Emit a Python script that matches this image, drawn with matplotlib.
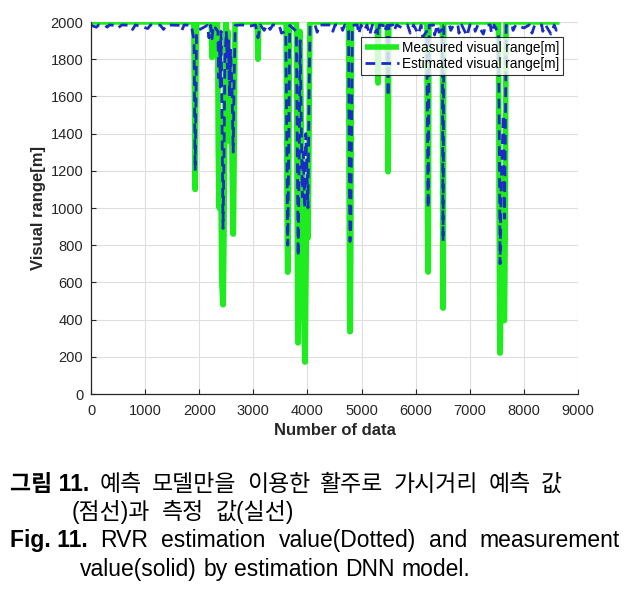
import matplotlib
matplotlib.use("Agg")
import matplotlib.pyplot as plt
from matplotlib import font_manager

# --- DATOS ---
# serie medida (verde, linea solida)
meas_idx = [0, 1900, 1914, 1921, 1927, 1936, 1950,
            2222, 2233, 2239, 2250,
            2340, 2352, 2368, 2382, 2398, 2418, 2436, 2444, 2456, 2472, 2490, 2508,
            2528, 2548, 2570, 2590, 2608, 2624, 2632, 2646, 2662,
            3072, 3083, 3089, 3100,
            3605, 3620, 3632, 3640, 3654, 3668,
            3795, 3810, 3822, 3830, 3842, 3862, 3885, 3910, 3935, 3951, 3959, 3972, 3990,
            4006, 4014, 4028, 4045,
            4760, 4772, 4782, 4792, 4802, 4816,
            5292, 5302, 5308, 5318,
            5478, 5487, 5493, 5504,
            6208, 6218, 6226, 6234, 6246,
            6494, 6502, 6510, 6520,
            7530, 7542, 7555, 7563, 7576, 7596, 7616, 7634, 7642, 7656, 7670,
            8660]
meas_val = [2000, 2000, 1500, 1100, 1100, 1600, 2000,
            2000, 1810, 1810, 2000,
            2000, 1300, 1000, 1500, 1150, 600, 480, 480, 800, 1400, 2000, 1650,
            1950, 1400, 1355, 1750, 1200, 860, 860, 1300, 2000,
            2000, 1800, 1800, 2000,
            2000, 1150, 655, 655, 1100, 2000,
            2000, 960, 275, 275, 900, 1950, 1500, 1050, 420, 172, 172, 600, 1100,
            840, 840, 1350, 2000,
            2000, 900, 335, 335, 800, 2000,
            2000, 1672, 1672, 2000,
            2000, 1195, 1195, 2000,
            2000, 1000, 656, 656, 2000,
            2000, 462, 462, 2000,
            2000, 1000, 220, 220, 500, 900, 1200, 395, 395, 900, 2000,
            2000]

# serie estimada (azul, linea discontinua)
est_idx = [0, 100, 140, 260, 300, 340, 440, 500, 570, 720, 770, 820, 1050, 1100,
           1280, 1340, 1400, 1640, 1680, 1720, 1850, 1880,
           1905, 1915, 1925, 1937, 1950, 2150, 2180, 2210, 2236, 2262,
           2345, 2360, 2375, 2390, 2405, 2420, 2440, 2458, 2475, 2500, 2520,
           2540, 2560, 2580, 2605, 2628, 2645, 2665,
           2800, 2900, 3040, 3086, 3130, 3200, 3250, 3310, 3360, 3480, 3520,
           3600, 3618, 3636, 3654, 3672,
           3795, 3812, 3828, 3845, 3865, 3885, 3905, 3925, 3950, 3970, 3990,
           4010, 4030, 4048,
           4140, 4180, 4220, 4430, 4470, 4510, 4620, 4650, 4690,
           4760, 4772, 4786, 4800, 4815, 4830,
           4920, 4950, 4990, 5050, 5100, 5150, 5200, 5250, 5292, 5305, 5330,
           5400, 5420, 5476, 5490, 5504, 5580, 5600, 5650, 5750, 5850, 5900,
           5960, 6050, 6100, 6130, 6205, 6230, 6250, 6330, 6350, 6400, 6430,
           6492, 6506, 6520, 6620, 6650, 6700, 6780, 6800, 6850, 6950, 7000,
           7080, 7100, 7150, 7250, 7300, 7380, 7400, 7450, 7500, 7530,
           7545, 7560, 7578, 7600, 7620, 7640, 7658, 7672,
           7780, 7800, 7850, 8000, 8100, 8150, 8200, 8330, 8350, 8400, 8500,
           8560, 8600, 8660]
est_val = [1982, 1972, 1984, 1982, 1972, 1984, 1982, 1968, 1984, 1982, 1960, 1984, 1965, 1984,
           1983, 1960, 1984, 1982, 1955, 1984, 1982, 1940,
           1900, 1500, 1200, 1500, 1950, 1982, 1915, 1982, 1910, 1982,
           1950, 1700, 1900, 1650, 1950, 1500, 890, 1300, 1800, 1950, 1750,
           1900, 1600, 1850, 1650, 1300, 1700, 1982,
           1984, 1976, 1984, 1915, 1984, 1955, 1984, 1960, 1984, 1982, 1940,
           1950, 1400, 800, 1300, 1982,
           1950, 1300, 740, 1200, 1900, 1500, 1060, 1300, 1000, 1400, 1200,
           1000, 1600, 1982,
           1984, 1945, 1984, 1984, 1950, 1984, 1984, 1955, 1984,
           1950, 1300, 820, 900, 1400, 1982,
           1984, 1935, 1984, 1955, 1984, 1930, 1984, 1945, 1960, 1930, 1984,
           1982, 1950, 1982, 1600, 1982, 1984, 1955, 1984, 1968, 1984, 1940,
           1984, 1935, 1982, 1920, 1950, 1000, 1982, 1984, 1930, 1984, 1945,
           1960, 820, 1982, 1984, 1955, 1984, 1984, 1940, 1984, 1925, 1984,
           1984, 1950, 1984, 1935, 1984, 1984, 1940, 1984, 1955, 1950,
           1400, 700, 1100, 1300, 1500, 945, 1400, 1982,
           1984, 1955, 1984, 1968, 1984, 1940, 1984, 1984, 1950, 1984, 1935,
           1984, 1955, 1982]

x_ticks = [0, 1000, 2000, 3000, 4000, 5000, 6000, 7000, 8000, 9000]
y_ticks = [0, 200, 400, 600, 800, 1000, 1200, 1400, 1600, 1800, 2000]

GREEN = '#1eec1e'
BLUE = '#1a2cc4'
DARK = '#262626'

plt.rcParams['font.family'] = ['Liberation Sans', 'DejaVu Sans']

fig = plt.figure(figsize=(6.38, 5.9), dpi=100)
ax = fig.add_axes([91 / 638, 1 - 394 / 590, (578 - 91) / 638, (394 - 22) / 590])

ax.plot(meas_idx, meas_val, color=GREEN, lw=4.0, solid_joinstyle='round',
        solid_capstyle='butt', label='Measured visual range[m]')
ax.plot(est_idx, est_val, color=BLUE, lw=2.0, ls='--', dashes=(3.5, 2.2),
        label='Estimated visual range[m]')

ax.set_xlim(0, 9000)
ax.set_ylim(0, 2000)
ax.set_xticks(x_ticks)
ax.set_yticks(y_ticks)
ax.tick_params(direction='in', length=3.5, colors=DARK, labelsize=10.5, width=0.8)
ax.tick_params(axis='x', pad=7)
ax.tick_params(axis='y', pad=5.5)
ax.grid(True, color='#dedede', lw=0.8)
ax.set_axisbelow(True)
for s in ['top', 'right']:
    ax.spines[s].set_visible(False)
for s in ['left', 'bottom']:
    ax.spines[s].set_color(DARK)
    ax.spines[s].set_linewidth(0.9)
ax.axvline(9000, color='#dedede', lw=0.8, zorder=0)
ax.axhline(2000, color='#dedede', lw=0.8, zorder=0)

ax.set_xlabel('Number of data', fontsize=12, fontweight='bold', color=DARK, labelpad=4)
ax.set_ylabel('Visual range[m]', fontsize=12, fontweight='bold', color=DARK, labelpad=3)

leg = ax.legend(loc='upper right', bbox_to_anchor=(563 / 638, 1 - 37 / 590),
                bbox_transform=fig.transFigure, fontsize=9.8, frameon=True,
                fancybox=False, edgecolor='black', borderpad=0.3,
                handlelength=2.5, handletextpad=0.2, labelspacing=0.12,
                borderaxespad=0)
leg.get_frame().set_linewidth(0.8)

# --- PIE DE FIGURA (texto justificado) ---
nombres = {f.name for f in font_manager.fontManager.ttflist}
latin = 'Liberation Sans Narrow' if 'Liberation Sans Narrow' in nombres else 'Liberation Sans'
fam = [latin, 'Noto Sans CJK KR']
size_en = 20 if latin.endswith('Narrow') else 16.5
size_ko = 16.5

fig.canvas.draw()
rend = fig.canvas.get_renderer()


def linea(palabras, x0, x1, y, size, negrita=0):
    """Coloca palabras entre x0 y x1 (pixeles, linea base y); las primeras 'negrita' en negrita."""
    textos = []
    for i, p in enumerate(palabras):
        t = fig.text(0, 1 - y / 590, p, family=fam, fontsize=size, va='baseline',
                     ha='left', fontweight='bold' if i < negrita else 'normal')
        textos.append(t)
    anchos = [t.get_window_extent(rend).width for t in textos]
    gap = (x1 - x0 - sum(anchos)) / (len(palabras) - 1)
    x = x0
    for t, w in zip(textos, anchos):
        t.set_x(x / 638)
        x += w + gap


linea(['그림 11.', '예측', '모델만을', '이용한', '활주로', '가시거리', '예측', '값'],
      10, 562, 491, size_ko, negrita=1)
linea(['(점선)과', '측정', '값(실선)'], 72, 294, 519, size_ko)
linea(['Fig. 11.', 'RVR', 'estimation', 'value(Dotted)', 'and', 'measurement'],
      10, 620, 547, size_en, negrita=1)
linea(['value(solid)', 'by', 'estimation', 'DNN', 'model.'], 80, 470, 576, size_en)

fig.savefig('out.png', dpi=100)
